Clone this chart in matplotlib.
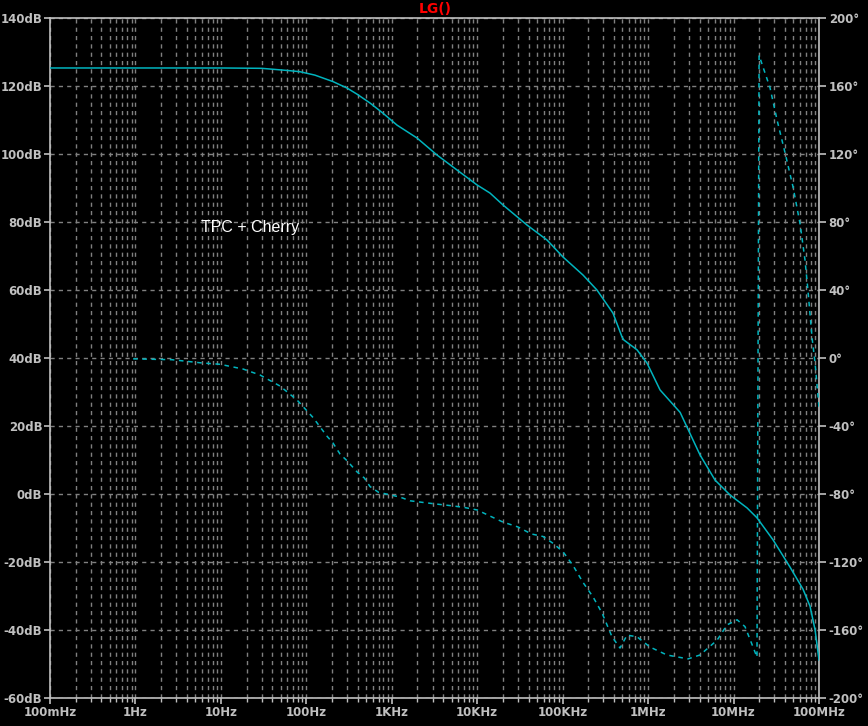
import numpy as np
import matplotlib
matplotlib.use("Agg")
import matplotlib.pyplot as plt
from matplotlib.ticker import FixedLocator, NullFormatter, LogLocator

# ---- data ----
mag_freq = [0.1, 1, 10, 30, 64.4, 84.3, 126, 205, 299, 392, 556, 789, 1151, 1974, 3384,
            5800, 9950, 14130, 20050, 38300, 65600, 1.01e5, 1.73e5, 2.52e5, 3.88e5,
            4.95e5, 5.2e5, 7.42e5, 9.71e5, 1.38e6, 2.37e6, 4.05e6, 6.07e6, 9.1e6,
            1.44e7, 1.88e7, 2.9e7, 4.58e7, 6.5e7, 7.85e7, 9.0e7, 1.0e8]
mag_db = [125.3, 125.3, 125.3, 125.2, 124.5, 124.2, 123.2, 121.3, 119.4, 117.6, 115.0,
          112.0, 108.5, 104.7, 99.7, 95.3, 90.9, 88.5, 85.0, 79.1, 74.7, 69.7, 64.4,
          60.0, 53.2, 46.2, 45.3, 42.4, 38.5, 30.6, 24.0, 11.5, 4.1, -0.3,
          -4.1, -7.0, -13.5, -21.5, -28.0, -33.0, -40.0, -48.8]

ph_freq = [0.94, 2.68, 5.7, 9.77, 18.2, 28.7, 49.2, 77.8, 119.7, 174.6, 205, 248, 299,
           392, 478, 556, 700, 1248, 1640, 2270, 3300, 5200, 7200, 10000, 14000, 20000,
           30000, 43000, 58900, 77100, 1.01e5, 1.32e5, 1.73e5, 2.27e5, 2.89e5, 3.78e5,
           4.69e5, 5.67e5, 7.42e5, 1.05e6, 1.66e6, 2.93e6, 4.05e6, 6.41e6, 8.39e6,
           1.10e7, 1.36e7, 1.69e7, 1.88e7, 1.99e7, 2.67e7, 3.23e7, 4.01e7, 4.97e7,
           6.0e7, 6.86e7, 7.45e7, 8.29e7, 9.0e7, 1.0e8]
ph_deg = [-0.5, -1.0, -2.8, -3.7, -6.5, -10.0, -16.5, -24.7, -35.0, -46.0, -50.0, -56.5,
          -60.4, -67.0, -70.6, -75.6, -79.0, -81.8, -84.0, -84.9, -85.9, -87.0, -88.0,
          -89.4, -92.9, -96.5, -99.4, -103.5, -105.0, -109.0, -114.0, -122.0, -132.0,
          -140.6, -150.0, -164.0, -170.6, -163.0, -164.0, -170.0, -174.7, -177.0,
          -174.7, -166.0, -157.0, -154.0, -158.0, -170.0, -176.0, 178.0, 159.0, 140.0,
          120.6, 100.6, 79.0, 57.6, 39.0, 12.0, -3.0, -29.0]

x_ticks = [0.1, 1, 10, 100, 1e3, 1e4, 1e5, 1e6, 1e7, 1e8]
x_labels = ["100mHz", "1Hz", "10Hz", "100Hz", "1KHz", "10KHz", "100KHz", "1MHz", "10MHz", "100MHz"]
db_ticks = [-60, -40, -20, 0, 20, 40, 60, 80, 100, 120, 140]
deg_ticks = [-200, -160, -120, -80, -40, 0, 40, 80, 120, 160, 200]

# ---- style ----
BG = "black"
AX = "#c0c0c0"
GRID = "#808080"
TRACE = "#00b4be"
FONT = dict(family="DejaVu Sans", weight="bold", size=8.5, color=AX)

fig = plt.figure(figsize=(8.68, 7.26), dpi=100, facecolor=BG)
ax = fig.add_axes([50 / 868, 1 - 698 / 726, (819 - 50) / 868, (698 - 18) / 726])
ax.set_facecolor(BG)
ax.set_xscale("log")
ax.set_xlim(0.1, 1e8)
ax.set_ylim(-60, 140)

for s in ax.spines.values():
    s.set_color(AX)
    s.set_linewidth(1.2)

ax.xaxis.set_major_locator(FixedLocator(x_ticks))
ax.set_xticklabels(x_labels, **FONT)
ax.xaxis.set_minor_locator(LogLocator(base=10, subs=np.arange(2, 10), numticks=100))
ax.xaxis.set_minor_formatter(NullFormatter())
ax.set_yticks(db_ticks)
ax.set_yticklabels([f"{v}dB" for v in db_ticks], **FONT)
ax.tick_params(axis="both", which="major", colors=AX, length=4, width=1.2, pad=1.5)
ax.tick_params(axis="x", which="minor", colors=AX, length=3, width=1)
ax.tick_params(axis="y", which="minor", left=False)

ax.grid(True, which="major", axis="both", color=GRID, linestyle=(0, (3, 3)), linewidth=1)
ax.grid(True, which="minor", axis="x", color=GRID, linestyle=(0, (3, 3)), linewidth=1)

ax.plot(mag_freq, mag_db, color=TRACE, linewidth=1.1, zorder=5)

ax2 = ax.twinx()
ax2.set_ylim(-200, 200)
ax2.set_yticks(deg_ticks)
ax2.set_yticklabels([f"{v}°" for v in deg_ticks], **FONT)
ax2.tick_params(axis="y", colors=AX, length=5, width=1.2, pad=2)
for s in ax2.spines.values():
    s.set_visible(False)
ax2.plot(ph_freq, ph_deg, color=TRACE, linewidth=1.1, linestyle=(0, (3, 3)), zorder=5)

ax.text(21.9, 78.5, "TPC + Cherry", color="white", fontsize=11.5, family="Liberation Sans",
        ha="center", va="center", zorder=6)
fig.text(435 / 868, 1 - 9 / 726, "LG()", color="#ff0000", fontsize=10, weight="bold",
         family="DejaVu Sans", ha="center", va="center")

fig.savefig("out.png", dpi=100, facecolor=BG)
